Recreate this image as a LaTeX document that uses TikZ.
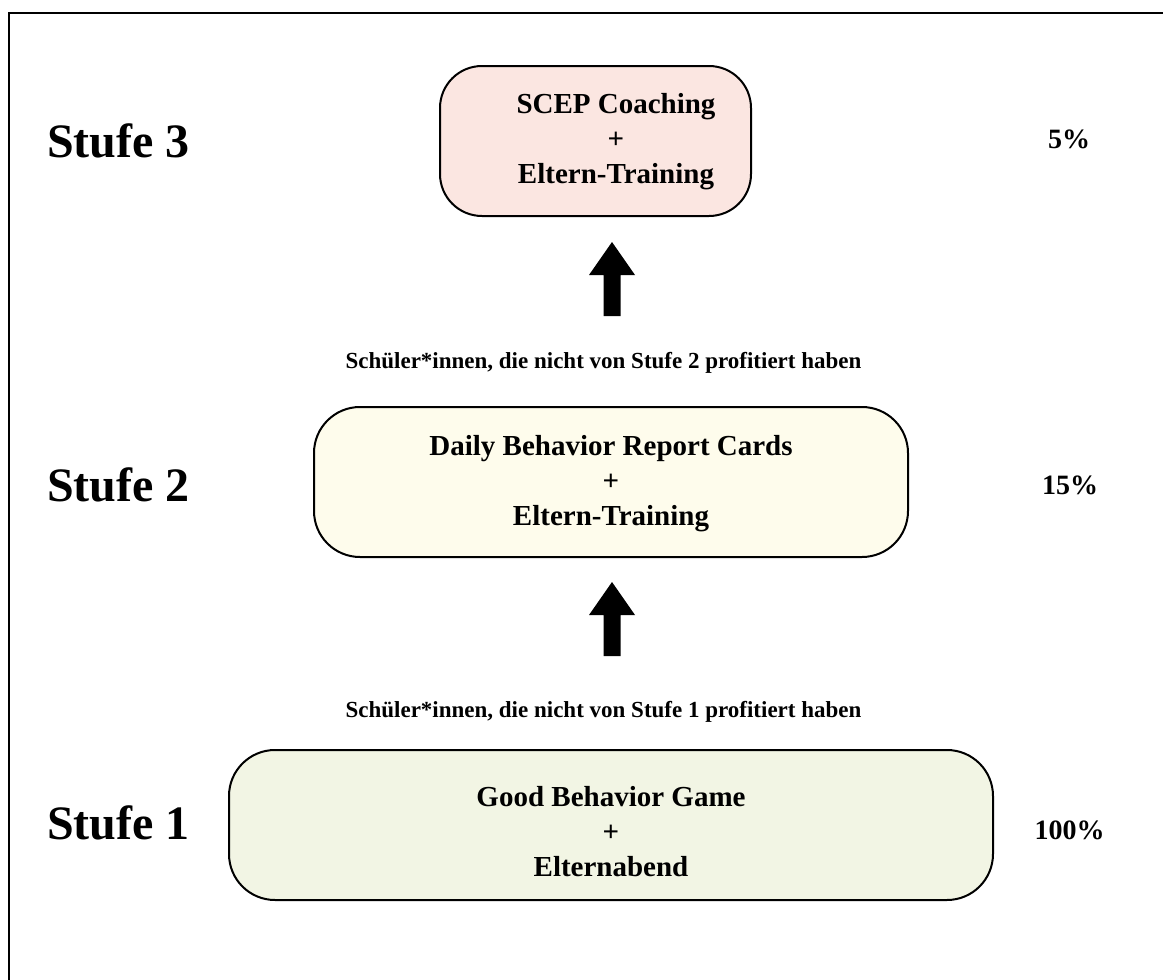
\documentclass[tikz,border=0pt]{standalone}
\usepackage{fontspec}
\setmainfont{Liberation Serif}
\definecolor{fillthree}{RGB}{251,230,225}
\definecolor{filltwo}{RGB}{254,252,236}
\definecolor{fillone}{RGB}{242,245,228}
\tikzset{
  stagebox/.style={draw=black, line width=2pt, rounded corners=#1,
    minimum height=150pt, inner sep=0pt},
  boxtext/.style={align=center, font=\fontsize{29}{35}\selectfont\bfseries, inner sep=0pt},
  stufe/.style={anchor=base west, font=\fontsize{48}{48}\selectfont\bfseries, inner sep=0pt},
  percent/.style={anchor=base, font=\fontsize{28}{28}\selectfont\bfseries, inner sep=0pt},
  note/.style={font=\fontsize{23}{23}\selectfont\bfseries, inner sep=0pt},
  blockup/.pic={
    \fill[black] (0,0) -- (23,33) -- (8.5,33) -- (8.5,74) -- (-8.5,74)
      -- (-8.5,33) -- (-23,33) -- cycle;
  }
}
\begin{document}
\begin{tikzpicture}[x=1pt,y=-1pt]
\useasboundingbox (0,0) rectangle (1163,980);
\fill[white] (0,0) rectangle (1163,980);

% outer frame (left and top edges)
\draw[line width=2pt] (9,980) -- (9,12.5) -- (1163,12.5);

% stage boxes
\node[stagebox=42pt, fill=fillthree, minimum width=311pt] (box3) at (595.5,141) {};
\node[stagebox=46pt, fill=filltwo, minimum width=594pt] (box2) at (611,482) {};
\node[stagebox=46pt, fill=fillone, minimum width=764pt] (box1) at (611,825) {};

\node[boxtext] (txt3) at (616,142) {SCEP Coaching\\+\\Eltern-Training};
\node[boxtext] (txt2) at (611,484) {Daily Behavior Report Cards\\+\\Eltern-Training};
\node[boxtext] (txt1) at (611,832) {Good Behavior Game\\+\\Elternabend};

% stage labels
\node[stufe] (s3) at (47,157) {Stufe 3};
\node[stufe] (s2) at (47,501) {Stufe 2};
\node[stufe] (s1) at (47,839) {Stufe 1};

% shares
\node[percent] (p3) at (1069,148) {5\%};
\node[percent] (p2) at (1070,494) {15\%};
\node[percent] (p1) at (1069.5,839) {100\%};

% transition notes
\node[note] (n2) at (603.5,363) {Schüler*innen, die nicht von Stufe 2 profitiert haben};
\node[note] (n1) at (603.5,712) {Schüler*innen, die nicht von Stufe 1 profitiert haben};

% upward block arrows
\pic at (612,242) {blockup};
\pic at (612,582) {blockup};
\end{tikzpicture}
\end{document}
